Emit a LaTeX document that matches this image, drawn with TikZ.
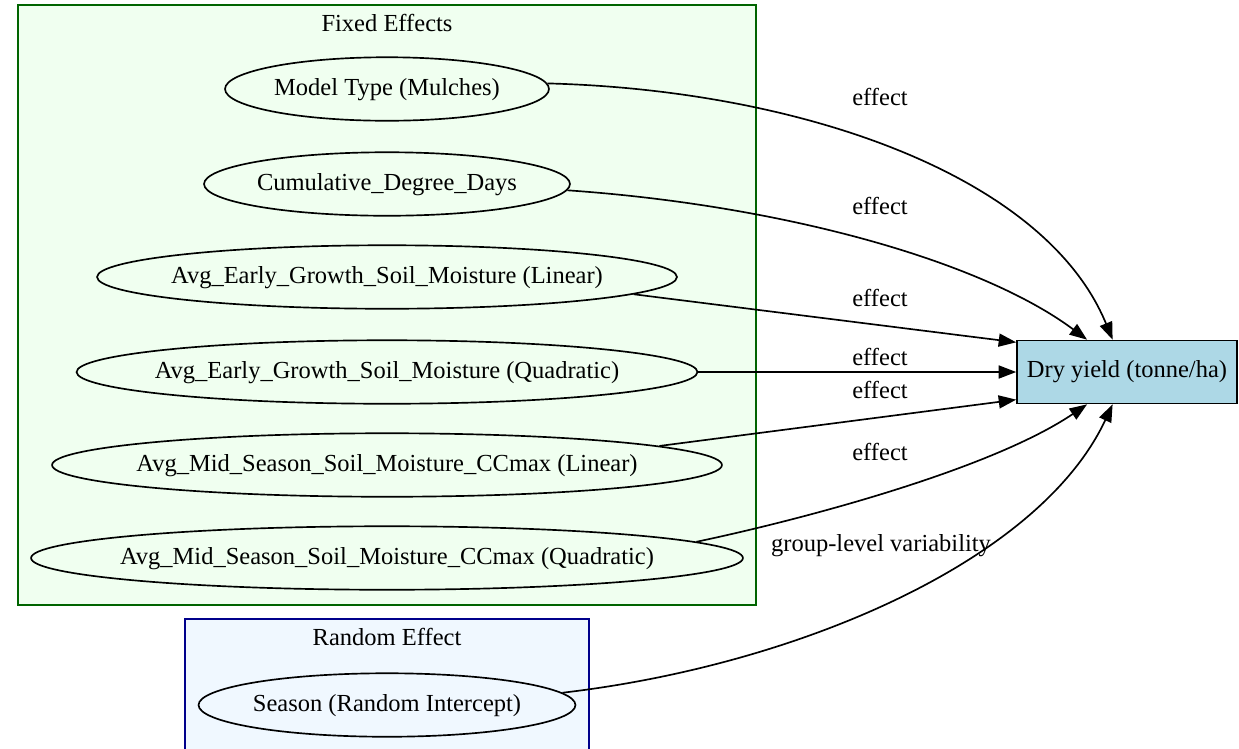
\documentclass[tikz,border=0pt]{standalone}
\usepackage{fontspec}
\setmainfont{Liberation Serif}
\usetikzlibrary{shapes.geometric,arrows.meta}
\definecolor{fixfill}{HTML}{F0FFF0}
\definecolor{fixline}{HTML}{006400}
\definecolor{randfill}{HTML}{F0F8FF}
\definecolor{randline}{HTML}{00008B}
\definecolor{yieldfill}{HTML}{ADD8E6}
\def\tx#1{\makebox[0pt]{#1}}
\tikzset{
	term/.style={ellipse, draw, line width=0.95pt, inner sep=0pt, minimum height=1.27cm, text height=0.92em, text depth=0.21em},
	outcome/.style={rectangle, draw, fill=yieldfill, line width=0.95pt, inner sep=0pt, minimum width=4.4cm, minimum height=1.26cm, text height=0.85em, text depth=0.22em},
	edge/.style={line width=0.95pt, -{Triangle[length=0.35cm,width=0.26cm]}},
	lab/.style={inner sep=0pt},
}

\begin{document}
\begin{tikzpicture}[x=0.02cm, y=-0.02cm, font=\fontsize{13.95}{16}\selectfont]
			%%%%% START %%%%%
			\def\cx{387}
			\def\lw{0.9pt}
			\useasboundingbox (0,0) rectangle (1239,748);
			
			% clusters
			\draw[fill=fixfill, draw=fixline, line width=\lw] (18,5) rectangle (756,605);
			\draw[fill=randfill, draw=randline, line width=\lw] (185,619) rectangle (589,762);
			\node[lab] (fixtitle) at (\cx,23) {Fixed Effects};
			\node[lab] (randtitle) at (\cx,637) {Random Effect};
			
			% fixed terms
			\node[term, minimum width=6.48cm] (mt) at (\cx,89) {\tx{Model Type (Mulches)}};
			\node[term, minimum width=7.32cm] (cd) at (\cx,184) {\tx{Cumulative\_Degree\_Days}};
			\node[term, minimum width=11.6cm] (el) at (\cx,277) {\tx{Avg\_Early\_Growth\_Soil\_Moisture (Linear)}};
			\node[term, minimum width=12.42cm] (eq) at (\cx,372) {\tx{Avg\_Early\_Growth\_Soil\_Moisture (Quadratic)}};
			\node[term, minimum width=13.4cm] (ml) at (\cx,465) {\tx{Avg\_Mid\_Season\_Soil\_Moisture\_CCmax (Linear)}};
			\node[term, minimum width=14.24cm] (mq) at (\cx,558) {\tx{Avg\_Mid\_Season\_Soil\_Moisture\_CCmax (Quadratic)}};
			
			% random term
			\node[term, minimum width=7.54cm] (se) at (\cx,705) {\tx{Season (Random Intercept)}};
			
			% outcome
			\node[outcome] (dy) at (1127,372) {Dry yield (tonne/ha)};
			
			% edge labels
			\node[lab] (l1) at (880,97) {effect};
			\node[lab] (l2) at (880,206) {effect};
			\node[lab] (l3) at (880,298) {effect};
			\node[lab] (l4) at (880,357) {effect};
			\node[lab] (l5) at (880,390) {effect};
			\node[lab] (l6) at (880,452) {effect};
			\node[lab] (l7) at (881,546) {group-level variability};
			
			% edges
			\draw[edge] (mt.2) .. controls (800,90) and (1045,175) .. (dy.114);
			\draw[edge] (cd.-2) .. controls (780,205) and (980,260) .. (dy.141);
			\draw[edge] (el.-4) -- (dy.165);
			\draw[edge] (eq.east) -- (dy.west);
			\draw[edge] (ml.4) -- (dy.194);
			\draw[edge] (mq.3) .. controls (800,520) and (990,470) .. (dy.219);
			\draw[edge] (se.4) .. controls (800,665) and (1040,560) .. (dy.246);
			%%%%% END %%%%%
\end{tikzpicture}
\end{document}
